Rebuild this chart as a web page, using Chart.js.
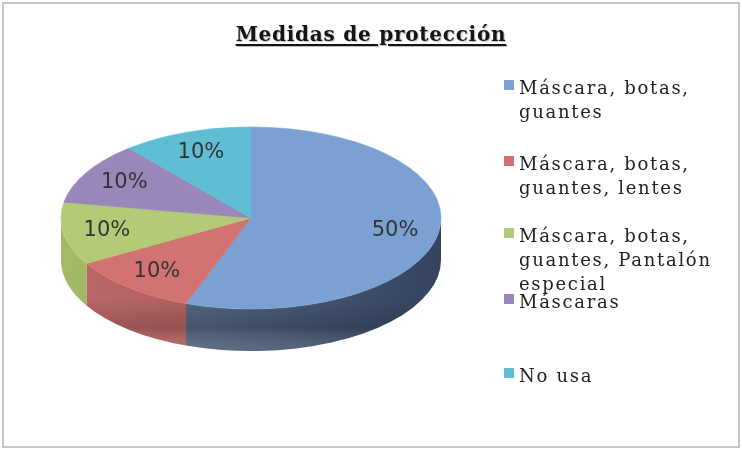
<!DOCTYPE html>
<html lang="es">
<head>
<meta charset="utf-8">
<title>Medidas de protección</title>
<script src="https://cdn.jsdelivr.net/npm/chart.js@4.4.1/dist/chart.umd.min.js"></script>
<style>
    html, body { margin: 0; padding: 0; background: #fff; }
    #wrap { position: relative; width: 742px; height: 450px; overflow: hidden; }
    #frame {
        position: absolute; left: 2px; top: 2px; width: 734px; height: 442px;
        border: 2px solid #c6c6c6; box-sizing: content-box; pointer-events: none;
    }
    #pieChart { position: absolute; left: 0; top: 0; }
    #title {
        position: absolute; left: 0; width: 742px; top: 22px; text-align: center;
        font: bold 20px "DejaVu Serif", serif; letter-spacing: 0.75px; line-height: 24px;
        color: #141414; text-shadow: 1px 1px 1px rgba(0, 0, 0, 0.25);
    }
    #title span { text-decoration: underline; text-underline-offset: 3px; }
    .leg-item { position: absolute; left: 504px; }
    .leg-box { position: absolute; left: 0; top: 4px; width: 10px; height: 10px; }
    .leg-text {
        position: absolute; left: 15px; white-space: nowrap;
        font: 18px "DejaVu Serif", serif; letter-spacing: 1.7px; line-height: 24px; color: #222;
    }
</style>
</head>
<body>
<div id="wrap">
    <canvas id="pieChart" width="742" height="450"></canvas>
    <div id="title"><span>Medidas de protección</span></div>
    <div id="legend"></div>
    <div id="frame"></div>
</div>
<script>
// datos del gráfico
const categories = [
    'Máscara, botas, guantes',
    'Máscara, botas, guantes, lentes',
    'Máscara, botas, guantes, Pantalón especial',
    'Máscaras',
    'No usa'
];
const legendLines = [
    ['Máscara, botas,', 'guantes'],
    ['Máscara, botas,', 'guantes, lentes'],
    ['Máscara, botas,', 'guantes, Pantalón', 'especial'],
    ['Máscaras'],
    ['No usa']
];
const percentages = [50, 10, 10, 10, 10];

// colores (cara superior y lateral)
const topColors = ['#7ba1d3', '#d27272', '#b3cb77', '#9a87ba', '#5fbdd4'];
const sideColors = [
    ['#647690', '#34445f'],
    ['#bb6868', '#a05050'],
    ['#a3ba66', '#8ea352'],
    ['#7f6c9c', '#6a5886'],
    ['#4ea4b8', '#3b8ea2']
];

// geometría de la elipse en pantalla
const PIE = { cx: 251, cy: 218, rx: 190, ry: 91, depth: 42, labelR: 0.77 };
const legendTops = [76, 152, 224, 290, 364];

// leyenda HTML (texto real)
const legendEl = document.getElementById('legend');
legendLines.forEach((lines, i) => {
    const item = document.createElement('div');
    item.className = 'leg-item';
    item.style.top = legendTops[i] + 'px';
    item.title = categories[i];
    const box = document.createElement('div');
    box.className = 'leg-box';
    box.style.background = topColors[i];
    const txt = document.createElement('div');
    txt.className = 'leg-text';
    txt.innerHTML = lines.join('<br>');
    item.appendChild(box);
    item.appendChild(txt);
    legendEl.appendChild(item);
});

// plugin: aplana el pastel y le dibuja el canto (efecto 3D)
const pie3d = {
    id: 'pie3d',
    beforeDatasetsDraw(chart) {
        const ctx = chart.ctx;
        const arcs = chart.getDatasetMeta(0).data;
        arcs.forEach((arc, i) => {
            const a1 = Math.max(arc.startAngle, 0);
            const a2 = Math.min(arc.endAngle, Math.PI);
            if (a2 <= a1) return;
            const g = ctx.createLinearGradient(PIE.cx - PIE.rx, 0, PIE.cx + PIE.rx, 0);
            g.addColorStop(0, sideColors[i][0]);
            g.addColorStop(1, sideColors[i][1]);
            ctx.save();
            ctx.beginPath();
            ctx.ellipse(PIE.cx, PIE.cy, PIE.rx, PIE.ry, 0, a1, a2);
            ctx.ellipse(PIE.cx, PIE.cy + PIE.depth, PIE.rx, PIE.ry, 0, a2, a1, true);
            ctx.closePath();
            ctx.fillStyle = g;
            ctx.fill();
            // sombra horizontal en el centro del canto
            const v = ctx.createLinearGradient(0, PIE.cy + PIE.ry - 10, 0, PIE.cy + PIE.ry + PIE.depth);
            v.addColorStop(0, 'rgba(0,0,0,0)');
            v.addColorStop(0.55, 'rgba(0,0,0,0.16)');
            v.addColorStop(1, 'rgba(255,255,255,0.08)');
            ctx.fillStyle = v;
            ctx.fill();
            ctx.restore();
        });
        const { x, y, outerRadius } = arcs[0];
        ctx.save();
        ctx.translate(PIE.cx, PIE.cy);
        ctx.scale(PIE.rx / outerRadius, PIE.ry / outerRadius);
        ctx.translate(-x, -y);
    },
    afterDatasetsDraw(chart) {
        const ctx = chart.ctx;
        ctx.restore();
        const arcs = chart.getDatasetMeta(0).data;
        ctx.save();
        ctx.font = '21px "DejaVu Sans", sans-serif';
        ctx.fillStyle = '#333';
        ctx.textAlign = 'center';
        ctx.textBaseline = 'middle';
        arcs.forEach((arc, i) => {
            const mid = (arc.startAngle + arc.endAngle) / 2;
            const lx = PIE.cx + Math.cos(mid) * PIE.rx * PIE.labelR;
            const ly = PIE.cy + Math.sin(mid) * PIE.ry * PIE.labelR;
            ctx.fillText(percentages[i] + '%', lx, ly);
        });
        ctx.restore();
    }
};

const ctxPie = document.getElementById('pieChart').getContext('2d');
new Chart(ctxPie, {
    type: 'pie',
    data: {
        labels: categories,
        datasets: [{
            data: percentages,
            backgroundColor: topColors,
            borderColor: topColors,
            borderWidth: 1
        }]
    },
    options: {
        responsive: false,
        animation: false,
        layout: { padding: 0 },
        plugins: {
            legend: { display: false },
            title: { display: false },
            tooltip: { enabled: false }
        }
    },
    plugins: [pie3d]
});
</script>
</body>
</html>
